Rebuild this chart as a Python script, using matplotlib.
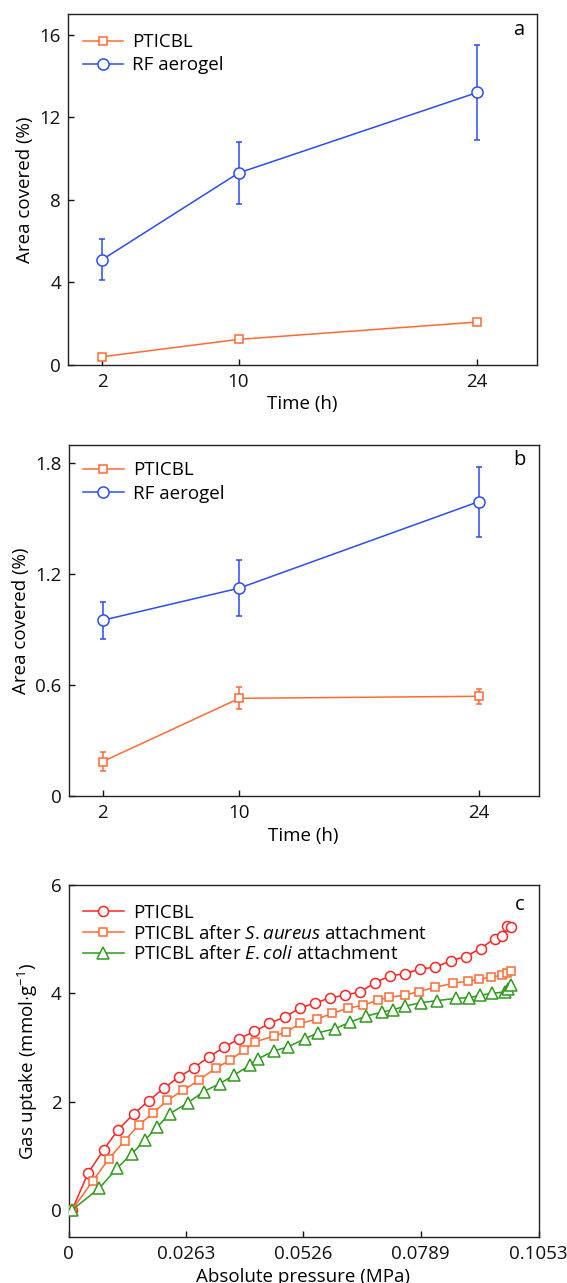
import matplotlib
matplotlib.use("Agg")
import matplotlib.pyplot as plt
import numpy as np

# ---------------- data ----------------
time_h = [2, 10, 24]

# panel a
a_pticbl = [0.40, 1.24, 2.08]
a_pticbl_err = [0.12, 0.12, 0.12]
a_rf = [5.1, 9.3, 13.2]
a_rf_err = [1.0, 1.5, 2.3]

# panel b
b_pticbl = [0.186, 0.528, 0.539]
b_pticbl_err = [0.05, 0.06, 0.04]
b_rf = [0.95, 1.124, 1.591]
b_rf_err = [0.10, 0.15, 0.19]

# panel c
c_red_x = [0.00081, 0.00438, 0.00787, 0.01111, 0.01460, 0.01793, 0.02134, 0.02466,
           0.02807, 0.03148, 0.03488, 0.03821, 0.04162, 0.04502, 0.04843, 0.05176,
           0.05516, 0.05857, 0.06198, 0.06530, 0.06871, 0.07204, 0.07545, 0.07885,
           0.08218, 0.08559, 0.08900, 0.09232, 0.09549, 0.09703, 0.09817, 0.09914]
c_red_y = [0.0, 0.679, 1.111, 1.481, 1.772, 2.012, 2.247, 2.451,
           2.623, 2.827, 3.006, 3.160, 3.296, 3.444, 3.562, 3.722,
           3.821, 3.914, 3.969, 4.025, 4.198, 4.321, 4.364, 4.451,
           4.481, 4.599, 4.679, 4.827, 5.012, 5.056, 5.235, 5.222]

c_orange_x = [0.00081, 0.00544, 0.00900, 0.01257, 0.01574, 0.01898, 0.02215, 0.02572,
              0.02920, 0.03294, 0.03618, 0.03934, 0.04186, 0.04600, 0.04875, 0.05192,
              0.05557, 0.05906, 0.06271, 0.06595, 0.06936, 0.07187, 0.07536, 0.07845,
              0.08218, 0.08615, 0.08940, 0.09191, 0.09475, 0.09718, 0.09817, 0.09914]
c_orange_y = [0.0, 0.537, 0.938, 1.278, 1.568, 1.790, 2.025, 2.210,
              2.395, 2.617, 2.765, 2.951, 3.105, 3.210, 3.284, 3.444,
              3.519, 3.630, 3.728, 3.778, 3.877, 3.926, 3.969, 4.031,
              4.111, 4.185, 4.222, 4.259, 4.302, 4.333, 4.370, 4.407]

c_green_x = [0.00081, 0.00690, 0.01087, 0.01420, 0.01720, 0.01987, 0.02272, 0.02669,
             0.03026, 0.03391, 0.03716, 0.04056, 0.04243, 0.04608, 0.04924, 0.05289,
             0.05597, 0.05971, 0.06311, 0.06676, 0.07033, 0.07277, 0.07545, 0.07893,
             0.08258, 0.08672, 0.08980, 0.09224, 0.09492, 0.09775, 0.09857, 0.09914]
c_green_y = [0.0, 0.401, 0.772, 1.037, 1.296, 1.531, 1.778, 1.975,
             2.185, 2.333, 2.494, 2.667, 2.790, 2.938, 3.012, 3.160,
             3.272, 3.346, 3.469, 3.580, 3.654, 3.698, 3.765, 3.827,
             3.864, 3.907, 3.920, 3.963, 4.000, 4.025, 4.086, 4.160]

a_yticks = [0, 4, 8, 12, 16]
b_yticks = [0, 0.6, 1.2, 1.8]
b_yticklabels = ["0", "0.6", "1.2", "1.8"]
c_xticks = [0, 0.0263, 0.0526, 0.0789, 0.1053]
c_xticklabels = ["0", "0.0263", "0.0526", "0.0789", "0.1053"]
c_yticks = [0, 2, 4, 6]

# ---------------- style ----------------
plt.rcParams['font.family'] = ['Open Sans', 'DejaVu Sans']
plt.rcParams['mathtext.fontset'] = 'custom'
plt.rcParams['mathtext.rm'] = 'Open Sans'
plt.rcParams['mathtext.it'] = 'Open Sans:italic'
FS = 13.5

ORANGE = '#ff6a33'
BLUE = '#2b4cf5'
RED = '#ff2323'
GREEN = '#2e9a1c'

W, H = 567.0, 1283.0
fig = plt.figure(figsize=(W / 100, H / 100), dpi=100)


def rect(l, r, t, b):
    return [l / W, 1 - b / H, (r - l) / W, (b - t) / H]


axa = fig.add_axes(rect(68, 537, 14, 365))
axb = fig.add_axes(rect(68.5, 538.5, 444.5, 796))
axc = fig.add_axes(rect(68.5, 538.5, 885, 1237))


def style(ax):
    for s in ax.spines.values():
        s.set_linewidth(1.0)
        s.set_color('#222222')
    ax.tick_params(direction='in', length=4, width=1.0, labelsize=FS,
                   colors='#111111')
    ax.tick_params(axis='x', pad=6)
    ax.tick_params(axis='y', pad=5)


def time_panel(ax, pt, pte, rf, rfe, ylim, yticks, ylabels, letter, ly):
    ax.errorbar(time_h, pt, yerr=pte, fmt='-s', color=ORANGE, mfc='white',
                mec=ORANGE, ms=6.2, mew=1.1, lw=1.1, capsize=2.5, elinewidth=1.1,
                capthick=1.1, label='PTICBL', zorder=3)
    ax.errorbar(time_h, rf, yerr=rfe, fmt='-o', color=BLUE, mfc='white',
                mec=BLUE, ms=8, mew=1.1, lw=1.1, capsize=2.5, elinewidth=1.1,
                capthick=1.1, label='RF aerogel', zorder=3)
    ax.set_xlim(0, 27.5)
    ax.set_ylim(*ylim)
    ax.set_xticks(time_h)
    ax.set_yticks(yticks)
    ax.set_yticklabels(ylabels)
    ax.set_xlabel('Time (h)', fontsize=FS, labelpad=3)
    ax.set_ylabel('Area covered (%)', fontsize=FS, labelpad=4)
    style(ax)
    h, l = ax.get_legend_handles_labels()
    h = [x[0] for x in h]
    ax.legend(h, l, loc='upper left', frameon=False, fontsize=FS,
              handlelength=2.17, handletextpad=0.49, borderaxespad=0.0,
              borderpad=0.4, labelspacing=0.28, bbox_to_anchor=(0.015, ly))
    ax.text(0.96, 0.955, letter, transform=ax.transAxes, fontsize=FS + 1,
            ha='center', va='center')


time_panel(axa, a_pticbl, a_pticbl_err, a_rf, a_rf_err, (0, 17), a_yticks,
           [str(v) for v in a_yticks], 'a', 0.967)
time_panel(axb, b_pticbl, b_pticbl_err, b_rf, b_rf_err, (0, 1.9), b_yticks,
           b_yticklabels, 'b', 0.973)

# panel c
axc.plot(c_red_x, c_red_y, '-o', color=RED, mfc='white', mec=RED, ms=7.2,
         mew=1.1, lw=1.1, label='PTICBL', zorder=3)
axc.plot(c_orange_x, c_orange_y, '-s', color=ORANGE, mfc='white', mec=ORANGE,
         ms=6.0, mew=1.1, lw=1.1, label=r'PTICBL after $\mathit{S.aureus}$ attachment',
         zorder=3)
axc.plot(c_green_x, c_green_y, '-^', color=GREEN, mfc='white', mec=GREEN,
         ms=8.0, mew=1.1, lw=1.1, label=r'PTICBL after $\mathit{E.coli}$ attachment',
         zorder=3)
axc.set_xlim(0, 0.1053)
axc.set_ylim(-0.5, 6)
axc.set_xticks(c_xticks)
axc.set_xticklabels(c_xticklabels)
axc.set_yticks(c_yticks)
axc.set_xlabel('Absolute pressure (MPa)', fontsize=FS, labelpad=3)
axc.set_ylabel(r'Gas uptake (mmol$\cdot$g$^{-1}$)', fontsize=FS, labelpad=8)
style(axc)
axc.legend(loc='upper left', frameon=False, fontsize=FS, handlelength=2.17,
           handletextpad=0.49, borderaxespad=0.0, borderpad=0.4,
           labelspacing=0.15, bbox_to_anchor=(0.015, 0.968))
axc.text(0.96, 0.943, 'c', transform=axc.transAxes, fontsize=FS + 1,
         ha='center', va='center')

fig.savefig('out.png', dpi=100)
